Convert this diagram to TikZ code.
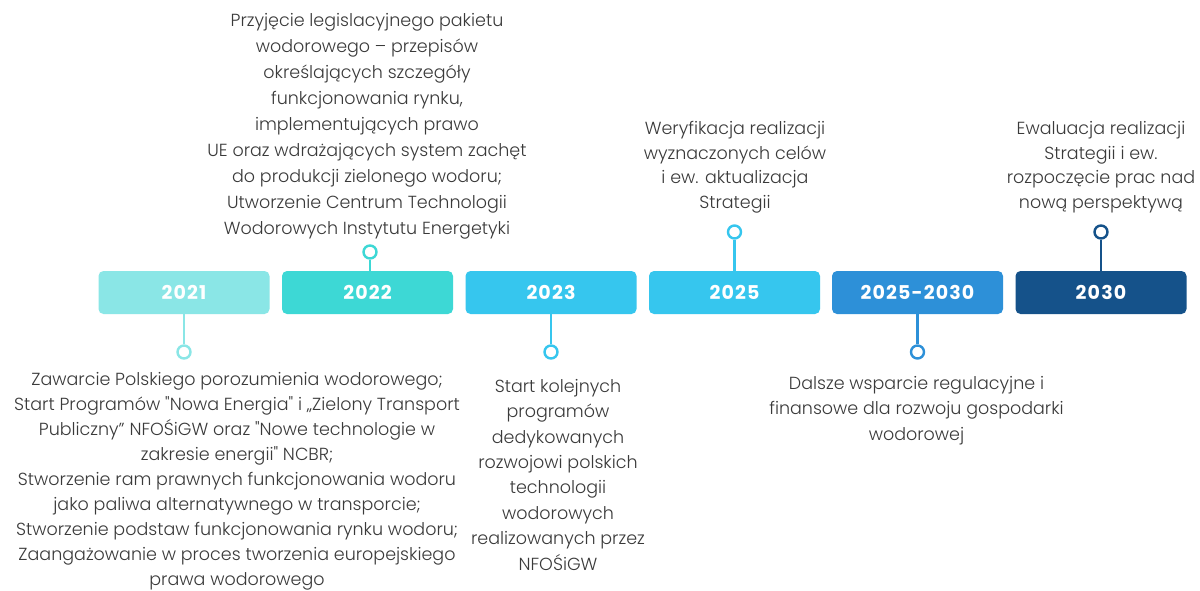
\documentclass[tikz,border=0pt]{standalone}
\usepackage{fontspec}
\setmainfont{Poppins}[Ligatures=TeXOff, UprightFont=* Light, BoldFont=* Bold]
\newfontfamily\yearfont{Poppins}[LetterSpace=6, UprightFont=* Bold]
\usetikzlibrary{backgrounds}

\definecolor{cA}{HTML}{8AE6E6}
\definecolor{cB}{HTML}{3DD8D5}
\definecolor{cC}{HTML}{36C6EE}
\definecolor{cD}{HTML}{2D90D8}
\definecolor{cE}{HTML}{15528A}
\definecolor{rail}{HTML}{E6E6E6}
\definecolor{txt}{HTML}{3A3A3A}

\begin{document}
\begin{tikzpicture}[x=1pt,y=-1pt,
  yearbox/.style={fill=#1, rounded corners=5pt, minimum width=171pt,
    minimum height=43pt, inner sep=0pt, text=white,
    font=\yearfont\fontsize{19}{22}\selectfont},
  stem/.style={draw=#1, line width=2.4pt},
  dot/.style={circle, draw=#1, line width=2.4pt, fill=white,
    minimum size=13pt, inner sep=0pt},
  note/.style={text=txt, align=center, inner sep=0pt,
    font=\fontsize{17.5}{#1}\selectfont},
  note/.default=25.2
]
\useasboundingbox (0,0) rectangle (1200,590);
\fill[white] (0,0) rectangle (1200,590);

% year boxes
\node[yearbox=cA] (y1) at (184,292.5)   {2021};
\node[yearbox=cB] (y2) at (367.5,292.5) {2022};
\node[yearbox=cC] (y3) at (551,292.5)   {2023};
\node[yearbox=cC] (y4) at (734.5,292.5) {2025};
\node[yearbox=cD] (y5) at (917.5,292.5) {2025-2030};
\node[yearbox=cE] (y6) at (1101,292.5)  {2030};

% grey rail behind the boxes
\begin{pgfonlayer}{background}
  \draw[rail, line width=4pt] (y1.center) -- (y6.center);
\end{pgfonlayer}

% markers
\node[dot=cA] (d1) at (184,352)   {};
\node[dot=cB] (d2) at (370,252)   {};
\node[dot=cC] (d3) at (551,352)   {};
\node[dot=cC] (d4) at (734.5,232) {};
\node[dot=cD] (d5) at (917.5,352) {};
\node[dot=cE] (d6) at (1101,232)  {};

\draw[stem=cA] (y1.south) -- (d1.north);
\draw[stem=cB] (d2.south) -- (d2.south |- y2.north);
\draw[stem=cC] (y3.south) -- (d3.north);
\draw[stem=cC] (d4.south) -- (y4.north);
\draw[stem=cD] (y5.south) -- (d5.north);
\draw[stem=cE] (d6.south) -- (y6.north);

% descriptions
\node[note=25.0, anchor=north] (t1) at (237,372) {Zawarcie Polskiego porozumienia wodorowego;\\
Start Programów "Nowa Energia" i „Zielony Transport\\
Publiczny” NFOŚiGW oraz "Nowe technologie w\\
zakresie energii" NCBR;\\
Stworzenie ram prawnych funkcjonowania wodoru\\
jako paliwa alternatywnego w transporcie;\\
Stworzenie podstaw funkcjonowania rynku wodoru;\\
Zaangażowanie w proces tworzenia europejskiego\\
prawa wodorowego};

\node[note=26, anchor=north] (t2) at (367,13) {Przyjęcie legislacyjnego pakietu\\
wodorowego – przepisów\\
określających szczegóły\\
funkcjonowania rynku,\\
implementujących prawo\\
UE oraz wdrażających system zachęt\\
do produkcji zielonego wodoru;\\
Utworzenie Centrum Technologii\\
Wodorowych Instytutu Energetyki};

\node[note=25.4, anchor=north] (t3) at (558,379) {Start kolejnych\\
programów\\
dedykowanych\\
rozwojowi polskich\\
technologii\\
wodorowych\\
realizowanych przez\\
NFOŚiGW};

\node[note=24.7, anchor=north] (t4) at (735,121) {Weryfikacja realizacji\\
wyznaczonych celów\\
i ew. aktualizacja\\
Strategii};

\node[note=25.5, anchor=north] (t5) at (916.5,376) {Dalsze wsparcie regulacyjne i\\
finansowe dla rozwoju gospodarki\\
wodorowej};

\node[note=24.7, anchor=north] (t6) at (1101,121) {Ewaluacja realizacji\\
Strategii i ew.\\
rozpoczęcie prac nad\\
nową perspektywą};
\end{tikzpicture}
\end{document}
